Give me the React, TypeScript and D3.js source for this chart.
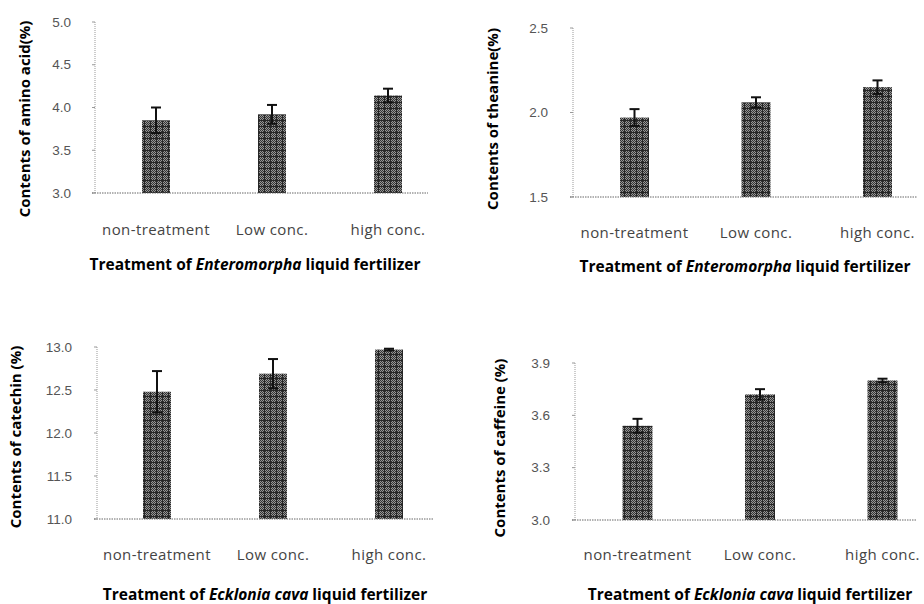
import React from "react";
import * as d3 from "d3";

const categories = ["non-treatment", "Low conc.", "high conc."];

const aminoValues = [3.85, 3.92, 4.14];
const aminoErrors = [0.15, 0.11, 0.08];
const aminoTicks = [3.0, 3.5, 4.0, 4.5, 5.0];

const theanineValues = [1.97, 2.06, 2.15];
const theanineErrors = [0.05, 0.03, 0.04];
const theanineTicks = [1.5, 2.0, 2.5];

const catechinValues = [12.48, 12.69, 12.97];
const catechinErrors = [0.24, 0.17, 0.01];
const catechinTicks = [11.0, 11.5, 12.0, 12.5, 13.0];

const caffeineValues = [3.54, 3.72, 3.8];
const caffeineErrors = [0.04, 0.03, 0.01];
const caffeineTicks = [3.0, 3.3, 3.6, 3.9];

type PanelProps = {
  values: number[];
  errors: number[];
  ticks: number[];
  yTitle: string;
  species: string;
  xRange: [number, number];
  yRange: [number, number];
  axisX: number;
  axisRight: number;
  tickRight: number;
  barW: number;
  catY: number;
  titleY: number;
  titleX: number;
  yTitleX: number;
  yTitleY: number;
};

function Panel(p: PanelProps) {
  const x = d3.scalePoint<string>().domain(categories).range(p.xRange);
  const y = d3
    .scaleLinear()
    .domain([p.ticks[0], p.ticks[p.ticks.length - 1]])
    .range(p.yRange);
  const base = y(p.ticks[0]);
  const top = y(p.ticks[p.ticks.length - 1]);
  const tickFont = "'Liberation Sans', 'DejaVu Sans', sans-serif";
  const lblFont = "'Open Sans', 'DejaVu Sans', sans-serif";
  return (
    <g>
      <line x1={p.axisX} x2={p.axisX} y1={top} y2={base} stroke="#999" strokeWidth={1} strokeDasharray="1,1" />
      {p.ticks.map((t) => (
        <g key={t}>
          <line x1={p.axisX - 3} x2={p.axisX} y1={y(t)} y2={y(t)} stroke="#999" strokeWidth={1} />
          <text
            x={p.tickRight}
            y={y(t)}
            dy="0.35em"
            textAnchor="end"
            fontFamily={tickFont}
            fontSize={13.5}
            fill="#555"
          >
            {t.toFixed(1)}
          </text>
        </g>
      ))}
      {categories.map((c, i) => {
        const cx = x(c) as number;
        const v = p.values[i];
        return (
          <rect
            key={c}
            x={cx - p.barW / 2}
            y={y(v)}
            width={p.barW}
            height={base - y(v)}
            fill="url(#hatch)"
          />
        );
      })}
      <line x1={p.axisX - 3} x2={p.axisRight} y1={base} y2={base} stroke="#666" strokeWidth={1} strokeDasharray="1.5,1" />
      {categories.map((c, i) => {
        const cx = x(c) as number;
        const v = p.values[i];
        const e = p.errors[i];
        const yt = y(v + e);
        const yb = y(v - e);
        return (
          <g key={c} stroke="#111" strokeWidth={2}>
            <line x1={cx} x2={cx} y1={yt} y2={yb} />
            <line x1={cx - 5} x2={cx + 5} y1={yt} y2={yt} />
            <line x1={cx - 5} x2={cx + 5} y1={yb} y2={yb} />
          </g>
        );
      })}
      {categories.map((c) => (
        <text
          key={c}
          x={x(c) as number}
          y={p.catY}
          textAnchor="middle"
          fontFamily={lblFont}
          fontSize={15}
          fill="#444"
          letterSpacing={0.4}
        >
          {c}
        </text>
      ))}
      <text
        x={p.titleX}
        y={p.titleY}
        textAnchor="middle"
        fontFamily={lblFont}
        fontSize={15.5}
        fontWeight="bold"
        fill="#000"
      >
        Treatment of <tspan fontStyle="italic">{p.species}</tspan> liquid  fertilizer
      </text>
      <text
        transform={`translate(${p.yTitleX},${p.yTitleY}) rotate(-90)`}
        textAnchor="middle"
        dy="0.35em"
        fontFamily={lblFont}
        fontSize={15}
        fontWeight="bold"
        fill="#000"
      >
        {p.yTitle}
      </text>
    </g>
  );
}

export default function App() {
  const checker: JSX.Element[] = [];
  for (let i = 0; i < 6; i++) {
    for (let j = 0; j < 6; j++) {
      if ((i + j) % 2 === 0) checker.push(<rect key={`${i}-${j}`} x={i} y={j} width={1} height={1} fill="#333" />);
    }
  }
  return (
    <svg
      width={924}
      height={604}
      style={{ position: "absolute", left: 0, top: 0, background: "#fff" }}
    >
      <defs>
        <pattern id="hatch" width={6} height={6} patternUnits="userSpaceOnUse">
          <rect width={6} height={6} fill="#959595" />
          {checker}
          <rect x={0} y={0} width={6} height={1} fill="#262626" />
          <rect x={0} y={0} width={1} height={6} fill="#262626" />
        </pattern>
      </defs>
      <Panel
        values={aminoValues}
        errors={aminoErrors}
        ticks={aminoTicks}
        yTitle="Contents of amino acid(%)"
        species="Enteromorpha"
        xRange={[156, 388]}
        yRange={[193, 22]}
        axisX={95}
        axisRight={428}
        tickRight={71}
        barW={28}
        catY={235}
        titleY={270}
        titleX={255}
        yTitleX={25}
        yTitleY={119}
      />
      <Panel
        values={theanineValues}
        errors={theanineErrors}
        ticks={theanineTicks}
        yTitle="Contents of theanine(%)"
        species="Enteromorpha"
        xRange={[634.5, 877.5]}
        yRange={[197, 28]}
        axisX={573}
        axisRight={917}
        tickRight={548}
        barW={29}
        catY={238}
        titleY={272}
        titleX={745}
        yTitleX={493}
        yTitleY={119}
      />
      <Panel
        values={catechinValues}
        errors={catechinErrors}
        ticks={catechinTicks}
        yTitle="Contents of catechin (%)"
        species="Ecklonia  cava"
        xRange={[157, 389]}
        yRange={[519, 347]}
        axisX={97}
        axisRight={433}
        tickRight={72}
        barW={28}
        catY={560}
        titleY={600}
        titleX={265}
        yTitleX={16}
        yTitleY={437}
      />
      <Panel
        values={caffeineValues}
        errors={caffeineErrors}
        ticks={caffeineTicks}
        yTitle="Contents of caffeine (%)"
        species="Ecklonia  cava"
        xRange={[637.5, 882.5]}
        yRange={[520, 363]}
        axisX={575}
        axisRight={917}
        tickRight={550}
        barW={30}
        catY={560}
        titleY={600}
        titleX={750}
        yTitleX={500}
        yTitleY={448}
      />
    </svg>
  );
}
